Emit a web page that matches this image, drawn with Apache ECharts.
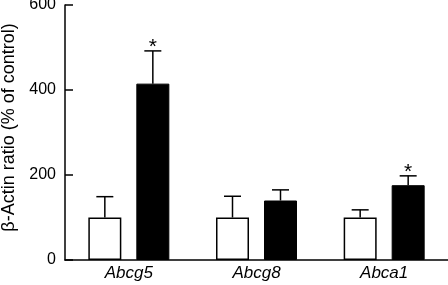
<!DOCTYPE html>
<html lang="en">
<head>
    <meta charset="UTF-8">
    <title>Abcg5 Abcg8 Abca1</title>
    <script src="https://cdn.jsdelivr.net/npm/echarts@6/dist/echarts.min.js"></script>
</head>
<body style="margin:0">
    <div id="echarts" style="width: 448px; height: 285px;"></div>
    <script>
        const genes = ['Abcg5', 'Abcg8', 'Abca1'];
        const yTicks = [0, 200, 400, 600];
        const controlMean = [100, 100, 100];
        const controlErr = [49, 50, 18];
        const treatedMean = [415, 140, 176];
        const treatedErr = [77, 25, 22];
        const signif = [true, false, true];

        const BAR_W = 33, BAR_GAP = 15;
        const myChart = echarts.init(document.querySelector('#echarts'));

        // error bar (upward only) + asterisk, drawn at the bar's centre
        function errRender(means, errs, side, stars) {
            return function (params, api) {
                const i = api.value(0);
                const base = api.coord([i, means[i]]);
                const top = api.coord([i, means[i] + errs[i]]);
                const x = base[0] + side * (BAR_W + BAR_GAP) / 2;
                const children = [
                    { type: 'line', shape: { x1: x, y1: base[1], x2: x, y2: top[1] }, style: { stroke: '#000', lineWidth: 1.5 } },
                    { type: 'line', shape: { x1: x - 8.5, y1: top[1], x2: x + 8.5, y2: top[1] }, style: { stroke: '#000', lineWidth: 1.5 } }
                ];
                if (stars && stars[i]) {
                    children.push({ type: 'text', x: x, y: top[1] - 4, style: { text: '*', fill: '#000', font: '21px "Liberation Sans"', align: 'center', verticalAlign: 'middle' } });
                }
                return { type: 'group', children: children };
            };
        }

        const option = {
            animation: false,
            grid: { left: 65, right: 0, top: 5, bottom: 25, outerBoundsMode: 'none', containLabel: false },
            xAxis: {
                type: 'category',
                data: genes,
                axisLine: { lineStyle: { color: '#000', width: 1.5 } },
                axisTick: { inside: true, alignWithLabel: true, length: 8, lineStyle: { color: '#000', width: 1.5 } },
                axisLabel: { color: '#000', fontStyle: 'italic', fontSize: 17, fontFamily: 'Liberation Sans', margin: 5 }
            },
            yAxis: {
                type: 'value',
                min: yTicks[0],
                max: yTicks[yTicks.length - 1],
                interval: 200,
                name: 'β-Actin ratio (% of control)',
                nameLocation: 'middle',
                nameGap: 46,
                nameTextStyle: { color: '#000', fontSize: 18, fontFamily: 'Liberation Sans', padding: [0, 0, 0, 10] },
                axisLine: { show: true, lineStyle: { color: '#000', width: 1.5 } },
                axisTick: { show: true, inside: true, length: 8, lineStyle: { color: '#000', width: 1.5 } },
                axisLabel: { color: '#000', fontSize: 16, fontFamily: 'Liberation Sans', margin: 9 },
                splitLine: { show: false }
            },
            series: [
                {
                    name: 'control',
                    type: 'bar',
                    data: controlMean,
                    barWidth: BAR_W,
                    barGap: (BAR_GAP / BAR_W * 100) + '%',
                    itemStyle: { color: '#fff', borderColor: '#000', borderWidth: 1.5 },
                    z: 2
                },
                {
                    name: 'treated',
                    type: 'bar',
                    data: treatedMean,
                    barWidth: BAR_W,
                    itemStyle: { color: '#000', borderColor: '#000', borderWidth: 1 },
                    z: 2
                },
                {
                    type: 'custom',
                    data: genes.map((g, i) => [i]),
                    renderItem: errRender(controlMean, controlErr, -1, null),
                    z: 1
                },
                {
                    type: 'custom',
                    data: genes.map((g, i) => [i]),
                    renderItem: errRender(treatedMean, treatedErr, 1, signif),
                    z: 1
                }
            ]
        };
        myChart.setOption(option);
    </script>
</body>
</html>
